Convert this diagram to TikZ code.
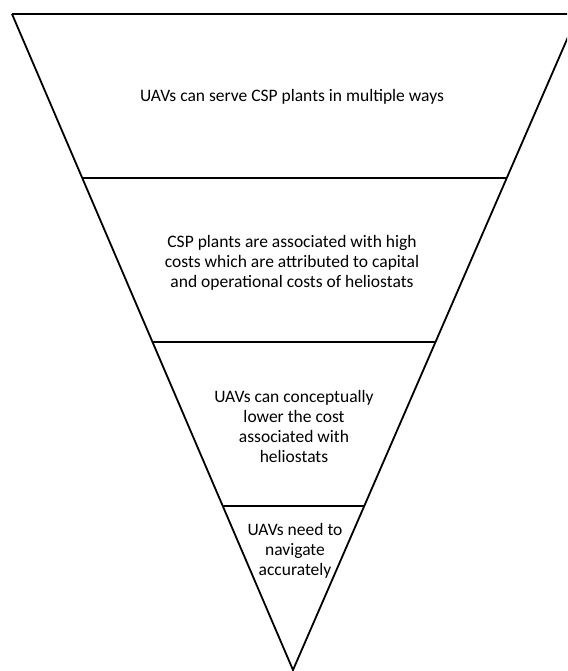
\documentclass[tikz,border=0pt]{standalone}
\usepackage{fontspec}
\setmainfont{Carlito}
\usetikzlibrary{calc}

\tikzset{
  funnel/.style={line width=1.8pt,line join=miter},
  layertext/.style={align=center,inner sep=0pt}
}

\begin{document}
\begin{tikzpicture}[x=1pt,y=-1pt,font=\fontsize{17.5}{20}\selectfont]
  \useasboundingbox (0,0) rectangle (567,671);
  \clip (0,0) rectangle (567,671);

  \coordinate (TL) at (12,14);
  \coordinate (TR) at (578,14);
  \coordinate (apex) at (293,670);

  % outline of the funnel
  \draw[line width=2.6pt] (TL) -- (TR);
  \draw[funnel] (TL) -- (apex) -- (TR);

  % dividing levels
  \foreach \t/\w in {0.25/1.9pt,0.5/2.7pt,0.75/1.7pt}
    \draw[line width=\w] ($(TL)!\t!(apex)$) -- ($(TR)!\t!(apex)$);

  \node[layertext] (serve) at (292,97) {UAVs can serve CSP plants in multiple ways};
  \node[layertext] (costs) at (292,263) {CSP plants are associated with high\\costs which are attributed to capital\\and operational costs of heliostats};
  \node[layertext] (lower) at (294,426) {UAVs can conceptually\\lower the cost\\associated with\\heliostats};
  \node[layertext] (navigate) at (295,551) {UAVs need to\\navigate\\accurately};
\end{tikzpicture}
\end{document}
